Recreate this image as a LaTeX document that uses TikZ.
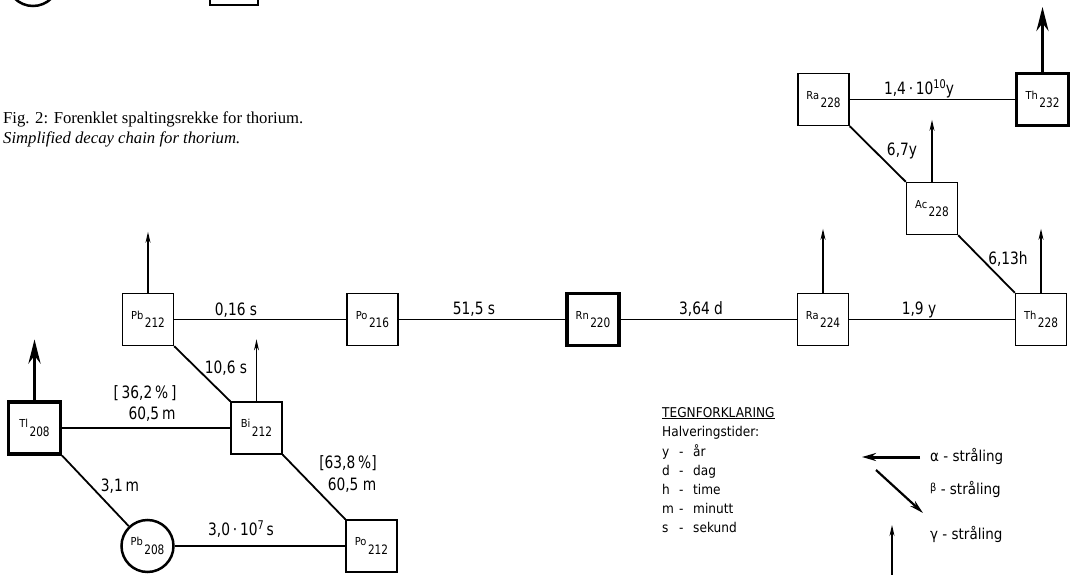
\documentclass[tikz,border=0pt]{standalone}
\usepackage{fontspec}
\setmainfont{Liberation Serif}
\newfontfamily\lblA{DejaVu Sans Condensed}
\newfontfamily\lblB[FakeStretch=0.9]{DejaVu Sans Condensed}
\usetikzlibrary{arrows.meta}
\newcommand{\isolab}[2]{\raisebox{8.5pt}{\lblA\fontsize{11}{11}\selectfont #1}\hspace{1.5pt}{\lblB\fontsize{13}{13}\selectfont #2}}
\begin{document}
\begin{tikzpicture}[x=1pt,y=-1pt,
 isobox/.style={draw, line width=1.3pt, minimum width=51pt, minimum height=52pt, inner sep=0pt},
 heavybox/.style={isobox, line width=3.2pt, minimum width=52pt, minimum height=52pt},
 heavycirc/.style={draw, circle, line width=2.5pt, minimum size=52pt, inner sep=0pt},
 link/.style={line width=1.8pt},
 gam/.style={line width=1.2pt, -{Stealth[length=11pt,width=5pt]}},
 alp/.style={line width=3.5pt, -{Stealth[length=24pt,width=12pt]}},
 hl/.style={font=\lblB\fontsize{17}{17}\selectfont, inner sep=0pt, anchor=base},
 leg/.style={font=\lblA\fontsize{13.5}{13.5}\selectfont, inner sep=0pt, anchor=base west},
 rad/.style={font=\lblA\fontsize{15}{15}\selectfont, inner sep=0pt, anchor=base west},
 captxt/.style={font=\fontsize{16.7}{16.7}\selectfont, inner sep=0pt, anchor=base west},
]
\useasboundingbox (0,0) rectangle (1081,575);
\fill[white] (0,0) rectangle (1081,575);
% cropped fragments at the top edge
\begin{scope}
\clip (0,0) rectangle (1081,575);
\draw[line width=2.5pt] (33,-20) circle (26);
\draw[line width=1.3pt] (210,-50) rectangle (258,5);
\end{scope}
% caption
\node[captxt] (cap1) at (3,124) {Fig. 2: Forenklet spaltingsrekke for thorium.};
\node[captxt] (cap2) at (3,143) {\itshape Simplified decay chain for thorium.};
% nuclides
\node[isobox]   (Ra228) at (823.5,99.5) {\isolab{Ra}{228}};
\node[heavybox] (Th232) at (1042.5,99.5) {\isolab{Th}{232}};
\node[isobox]   (Ac228) at (932,208.5) {\isolab{Ac}{228}};
\node[isobox]   (Ra224) at (823,319.5) {\isolab{Ra}{224}};
\node[isobox]   (Th228) at (1041,319.5) {\isolab{Th}{228}};
\node[heavybox] (Rn220) at (593,319.5) {\isolab{Rn}{220}};
\node[isobox]   (Po216) at (372.5,319.5) {\isolab{Po}{216}};
\node[isobox]   (Pb212) at (148,319.5) {\isolab{Pb}{212}};
\node[isobox]   (Bi212) at (256.5,428) {\isolab{Bi}{212}};
\node[heavybox] (Tl208) at (34.5,428) {\isolab{Tl}{208}};
\node[isobox]   (Po212) at (371.5,546) {\isolab{Po}{212}};
\node[heavycirc] (Pb208) at (147.5,546) {\isolab{Pb}{208}};
% decay links
\draw[link] (Ra228) -- (Th232);
\draw[link] (Ra228.south east) -- (Ac228.north west);
\draw[link] (Ac228.south east) -- (Th228.north west);
\draw[link] (Ra224) -- (Th228);
\draw[link] (Rn220) -- (Ra224);
\draw[link] (Po216) -- (Rn220);
\draw[link] (Pb212) -- (Po216);
\draw[link] (Pb212.south east) -- (Bi212.north west);
\draw[link] (Tl208) -- (Bi212);
\draw[link] (Bi212.south east) -- (Po212.north west);
\draw[link] (Tl208.south east) -- (Pb208);
\draw[link] (Pb208) -- (Po212);
% radiation arrows
\draw[alp] (Th232.north) -- ++(0,-65);
\draw[alp] (Tl208.north) -- ++(0,-61);
\draw[gam] (Ac228.north) -- ++(0,-62);
\draw[gam] (Ra224.north) -- ++(0,-64);
\draw[gam] (Th228.north) -- ++(0,-64);
\draw[gam] (Pb212.north) -- ++(0,-61);
\draw[gam] (Bi212.north) -- ++(0,-62);
% half-life labels
\node[hl] (t1) at (919,95) {1,4\,·\,10\raisebox{6pt}{\fontsize{12}{12}\selectfont 10}y};
\node[hl] (t2) at (902,155) {6,7y};
\node[hl] (t3) at (1008,264) {6,13h};
\node[hl] (t4) at (919,314) {1,9 y};
\node[hl] (t5) at (701,314) {3,64 d};
\node[hl] (t6) at (474,314) {51,5 s};
\node[hl] (t7) at (236,315) {0,16 s};
\node[hl] (t8) at (226,373) {10,6 s};
\node[hl] (t9) at (145,398) {[\,36,2\,\%\,]};
\node[hl] (t10) at (152,419) {60,5\,m};
\node[hl] (t11) at (120,491) {3,1\,m};
\node[hl] (t12) at (241,535) {3,0\,·\,10\raisebox{6pt}{\fontsize{12}{12}\selectfont 7}\,s};
\node[hl] (t13) at (348,468) {[63,8\,\%]};
\node[hl] (t14) at (352,490) {60,5 m};
% legend
\node[leg] (g0) at (662,417) {\underline{TEGNFORKLARING}};
\node[leg] (g1) at (662,436) {Halveringstider:};
\node[leg] (g2) at (662,456) {\makebox[17pt][l]{y}\makebox[14pt][l]{-}år};
\node[leg] (g3) at (662,475) {\makebox[17pt][l]{d}\makebox[14pt][l]{-}dag};
\node[leg] (g4) at (662,494) {\makebox[17pt][l]{h}\makebox[14pt][l]{-}time};
\node[leg] (g5) at (662,513) {\makebox[17pt][l]{m}\makebox[14pt][l]{-}minutt};
\node[leg] (g6) at (662,532) {\makebox[17pt][l]{s}\makebox[14pt][l]{-}sekund};
\coordinate (a1) at (920,457);
\coordinate (a2) at (862,457);
\coordinate (b1) at (876,470);
\coordinate (b2) at (923,513);
\coordinate (c1) at (892,576);
\coordinate (c2) at (892,525);
\draw[line width=3pt, -{Stealth[length=14pt,width=8pt]}] (a1) -- (a2);
\draw[line width=2.2pt, -{Stealth[length=14pt,width=7pt]}] (b1) -- (b2);
\draw[line width=1.3pt, -{Stealth[length=11pt,width=5pt]}] (c1) -- (c2);
\node[rad] (ra) at (930,461) {α - stråling};
\node[rad] (rb) at (930,494) {\raisebox{3pt}{\fontsize{11}{11}\selectfont β} - stråling};
\node[rad] (rc) at (930,539) {γ - stråling};
\end{tikzpicture}
\end{document}
